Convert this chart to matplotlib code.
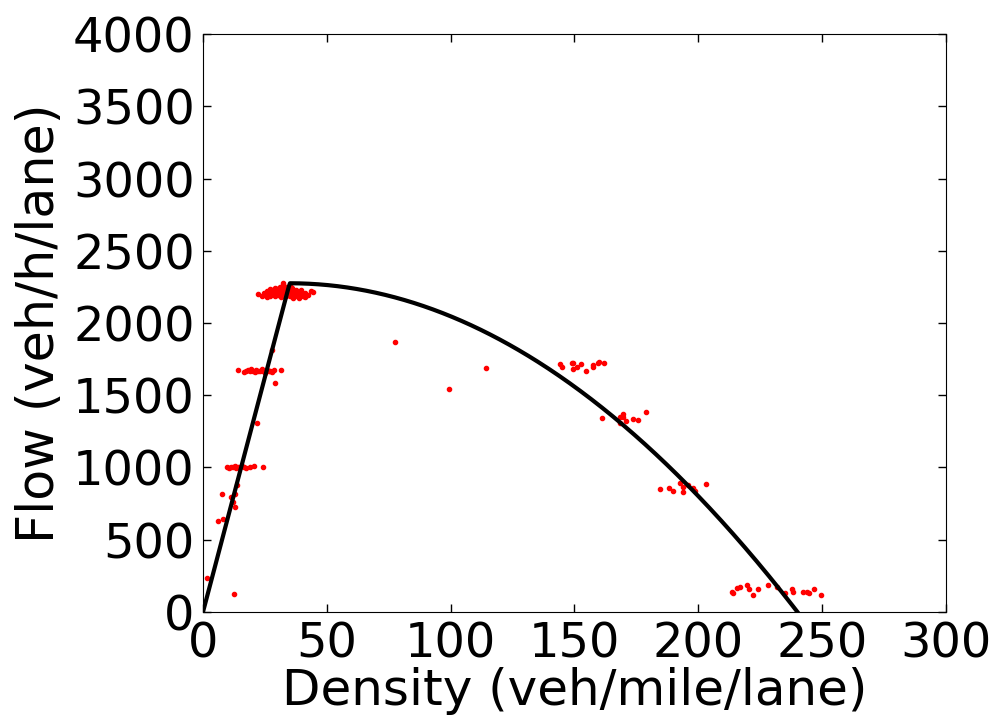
import numpy as np
import matplotlib.pyplot as plt

# Measured density / flow samples (veh/mile/lane, veh/h/lane)
density = [
    # capacity cluster
    22.2, 24.5, 25.1, 25.8, 26.4, 26.9, 27.5, 28.0, 28.3, 28.9, 29.4, 29.8,
    30.2, 30.7, 31.1, 31.5, 31.9, 32.3, 32.6, 33.0, 33.4, 33.8, 34.1, 34.5,
    34.9, 35.3, 35.6, 36.0, 36.4, 36.8, 37.2, 37.6, 38.0, 38.5, 39.0, 39.6,
    40.2, 41.0, 42.5, 43.8, 44.4, 27.0, 29.0, 31.0, 32.3, 24.0, 26.0, 36.5,
    38.8, 41.2, 30.0, 33.5, 35.0, 37.0,
    # ~1670 cluster
    14.1, 16.5, 17.2, 18.0, 18.8, 19.5, 20.2, 20.9, 21.6, 22.3, 23.0, 23.7,
    24.4, 25.1, 25.8, 26.5, 27.2, 28.0, 28.7, 31.5, 29.0, 22.0, 28.0,
    # ~1000 cluster and low-density points
    9.7, 10.5, 11.3, 12.0, 12.8, 13.5, 14.2, 15.0, 15.8, 16.6, 17.5, 19.0,
    20.4, 24.2, 7.7, 11.3, 12.9, 12.1, 12.9, 6.1, 8.1, 13.7, 1.6, 12.5,
    # congested branch
    77.5, 114.3, 99.3,
    144.0, 145.0, 149.0, 149.4, 149.4, 151.0, 152.6, 154.6, 157.5, 157.5,
    159.5, 160.0, 162.0,
    161.0, 168.4, 169.6, 169.6, 170.8, 173.6, 175.6, 178.9, 168.4,
    184.5, 188.2, 189.8, 192.6, 193.8, 193.8, 195.8, 197.8, 198.6, 203.1,
    213.6, 214.0, 215.6, 216.8, 219.6, 220.5, 222.0, 224.0, 228.0, 231.8,
    235.0, 237.8, 238.2, 242.3, 243.9, 244.7, 246.7, 249.5,
]
flow = [
    2200, 2210, 2195, 2220, 2205, 2190, 2215, 2230, 2200, 2185, 2210, 2225,
    2195, 2240, 2210, 2180, 2220, 2277, 2200, 2235, 2190, 2215, 2245, 2205,
    2225, 2185, 2210, 2240, 2195, 2220, 2205, 2230, 2190, 2215, 2200, 2225,
    2185, 2210, 2195, 2220, 2215, 2235, 2240, 2250, 2265, 2185, 2180, 2175,
    2170, 2180, 2230, 2250, 2260, 2200,
    1675, 1660, 1670, 1675, 1665, 1680, 1670, 1660, 1675, 1670, 1665, 1680,
    1670, 1655, 1675, 1665, 1670, 1660, 1675, 1675, 1585, 1308, 1813,
    1000, 995, 1005, 1000, 1010, 995, 1005, 1000, 1010, 1000, 995, 1005,
    1010, 1000, 816, 796, 816, 761, 727, 630, 644, 879, 235, 125,
    1868, 1689, 1543,
    1716, 1696, 1723, 1723, 1682, 1696, 1716, 1668, 1696, 1709,
    1723, 1730, 1723,
    1343, 1349, 1370, 1349, 1322, 1335, 1329, 1384, 1308,
    851, 858, 837, 893, 830, 865, 879, 858, 837, 886,
    138, 131, 166, 173, 187, 159, 118, 159, 187, 173,
    131, 159, 138, 138, 138, 131, 159, 118,
]

# Fitted fundamental diagram parameters
v_free = 65.0      # free-flow speed (mile/h)
k_crit = 35.0      # critical density
k_jam = 240.0      # jam density
q_max = v_free * k_crit

k = np.linspace(0, k_jam, 500)
q = np.where(k <= k_crit, v_free * k,
             q_max * (1 - ((k - k_crit) / (k_jam - k_crit)) ** 2))

plt.rcParams['font.family'] = 'DejaVu Sans'
plt.rcParams['xtick.direction'] = 'in'
plt.rcParams['ytick.direction'] = 'in'
plt.rcParams['xtick.top'] = True
plt.rcParams['ytick.right'] = True

fig = plt.figure(figsize=(10.02, 7.25), dpi=100)
ax = fig.add_axes([0.2026, 0.156, 0.7415, 0.797])

ax.plot(density, flow, 'r.', markersize=6)
ax.plot(k, q, color='black', linewidth=3)

ax.set_xlim(0, 300)
ax.set_ylim(0, 4000)
ax.set_xticks([0, 50, 100, 150, 200, 250, 300])
ax.set_yticks(range(0, 4001, 500))
ax.tick_params(labelsize=34.5, length=6, width=1, pad=6)
ax.set_xlabel('Density (veh/mile/lane)', fontsize=36, labelpad=0)
ax.set_ylabel('Flow (veh/h/lane)', fontsize=36.5, labelpad=6)

fig.savefig('out.png', dpi=100, facecolor='white')
